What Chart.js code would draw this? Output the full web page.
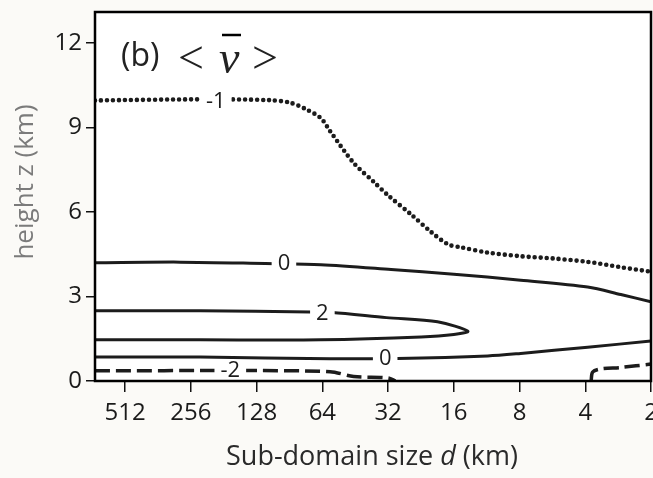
<!DOCTYPE html>
<html>
<head>
<meta charset="utf-8">
<script src="https://cdn.jsdelivr.net/npm/chart.js@4/dist/chart.umd.min.js"></script>
<style>
  html, body { margin: 0; padding: 0; background: #fbfaf7; overflow: hidden; }
  #wrap { width: 653px; height: 478px; }
</style>
</head>
<body>
<div id="wrap"><canvas id="myChart"></canvas></div>
<script>
// sub-domain size d (km) and height z (km)
const xTicks = [512, 256, 128, 64, 32, 16, 8, 4, 2];
const yTicks = [0, 3, 6, 9, 12];

const minus1X = [704, 232, 111, 90, 77, 65, 59, 46, 37, 32, 25, 20.4, 17, 14.9, 11.2, 7.9, 5.6, 3.9, 2.75, 2];
const minus1Z = [9.96, 10.0, 9.97, 9.88, 9.67, 9.33, 8.87, 7.74, 7.05, 6.59, 5.9, 5.3, 4.85, 4.75, 4.56, 4.43, 4.35, 4.23, 4.04, 3.88];

const zeroUpX = [704, 286, 117, 65, 31, 16, 7.9, 3.9, 2.75, 2];
const zeroUpZ = [4.2, 4.22, 4.17, 4.13, 3.96, 3.79, 3.58, 3.34, 3.07, 2.81];

const twoX = [704, 232, 72.5, 57.7, 32.6, 19, 13.8, 16, 22.6, 65, 232, 704];
const twoZ = [2.49, 2.49, 2.45, 2.43, 2.25, 2.1, 1.77, 1.65, 1.56, 1.46, 1.46, 1.46];

const zeroLowX = [704, 232, 59, 29, 11.2, 7.9, 3.9, 2];
const zeroLowZ = [0.85, 0.85, 0.79, 0.8, 0.89, 0.98, 1.2, 1.42];

const minus2LeftX = [704, 164, 59, 46, 32, 29.6];
const minus2LeftZ = [0.36, 0.37, 0.33, 0.16, 0.11, 0.0];

const minus2RightX = [3.76, 3.7, 3.39, 2.75, 2];
const minus2RightZ = [0, 0.32, 0.43, 0.48, 0.6];

const contourLabels = ['-1', '0', '2', '0', '-2'];
const labelX = [197, 96, 64, 33, 169];
const labelZ = [9.93, 4.17, 2.38, 0.8, 0.37];

const ink = '#1c1c1c';

function pts(xs, zs) {
    return xs.map((x, i) => ({ x: x, y: zs[i] }));
}

function solid(xs, zs) {
    return { data: pts(xs, zs), borderColor: ink, borderWidth: 3, tension: 0.3 };
}

function dashed(xs, zs) {
    return { data: pts(xs, zs), borderColor: ink, borderWidth: 3.5, borderDash: [15, 6], tension: 0.3 };
}

const backdrop = {
    id: 'backdrop',
    beforeDraw(chart) {
        const { ctx, chartArea: a } = chart;
        ctx.save();
        ctx.fillStyle = '#fbfaf7';
        ctx.fillRect(0, 0, chart.width, chart.height);
        ctx.fillStyle = '#ffffff';
        ctx.fillRect(a.left, a.top, a.right - a.left, a.bottom - a.top);
        ctx.restore();
    }
};

const decorations = {
    id: 'decorations',
    afterDatasetsDraw(chart) {
        const { ctx, chartArea: a, scales } = chart;
        ctx.save();
        // contour labels
        ctx.font = '22px "Open Sans"';
        ctx.textAlign = 'center';
        ctx.textBaseline = 'middle';
        contourLabels.forEach((t, i) => {
            const px = scales.x.getPixelForValue(labelX[i]);
            const py = scales.y.getPixelForValue(labelZ[i]);
            const w = ctx.measureText(t).width + 12;
            ctx.fillStyle = '#ffffff';
            ctx.fillRect(px - w / 2, py - 8, w, 16);
            ctx.fillStyle = ink;
            ctx.fillText(t, px, py);
        });
        // frame
        ctx.strokeStyle = '#000';
        ctx.lineWidth = 2.5;
        ctx.strokeRect(a.left, a.top, a.right - a.left, a.bottom - a.top);

        // panel label
        ctx.textAlign = 'left';
        ctx.textBaseline = 'alphabetic';
        ctx.fillStyle = '#222';
        ctx.font = '32px "Open Sans"';
        ctx.fillText('(b)', 121, 66);
        ctx.font = '46px "Liberation Serif"';
        ctx.fillText('<', 178, 73);
        ctx.fillText('>', 252, 73);
        ctx.font = 'italic 46px "Liberation Serif"';
        ctx.fillText('v', 219, 73);
        ctx.lineWidth = 2.5;
        ctx.beginPath();
        ctx.moveTo(222, 35);
        ctx.lineTo(241, 35);
        ctx.stroke();

        // x title with italic d
        const parts = [['Sub-domain size ', '27px "Open Sans"'], ['d', 'italic 27px "Open Sans"'], [' (km)', '27px "Open Sans"']];
        let total = 0;
        parts.forEach(p => { ctx.font = p[1]; total += ctx.measureText(p[0]).width; });
        let x = 372 - total / 2;
        ctx.fillStyle = '#2a2a2a';
        ctx.textBaseline = 'middle';
        parts.forEach(p => {
            ctx.font = p[1];
            ctx.fillText(p[0], x, 457);
            x += ctx.measureText(p[0]).width;
        });

        // y title
        ctx.translate(26, 182);
        ctx.rotate(-Math.PI / 2);
        ctx.textAlign = 'center';
        ctx.fillStyle = '#7b7b7b';
        ctx.font = '26px "Open Sans"';
        ctx.fillText('height z (km)', 0, 0);
        ctx.restore();
    }
};

new Chart(document.getElementById('myChart'), {
    type: 'scatter',
    data: {
        datasets: [
            {
                data: pts(minus1X, minus1Z), borderColor: ink, borderWidth: 4.6,
                borderDash: [0, 6], borderCapStyle: 'round', tension: 0.3
            },
            solid(zeroUpX, zeroUpZ),
            solid(twoX, twoZ),
            solid(zeroLowX, zeroLowZ),
            dashed(minus2LeftX, minus2LeftZ),
            dashed(minus2RightX, minus2RightZ)
        ]
    },
    options: {
        responsive: true,
        maintainAspectRatio: false,
        animation: false,
        showLine: true,
        elements: { point: { radius: 0 } },
        layout: { autoPadding: false, padding: { left: 0, top: 12, right: 2, bottom: 0 } },
        plugins: {
            legend: { display: false },
            tooltip: { enabled: false }
        },
        scales: {
            x: {
                type: 'logarithmic',
                reverse: true,
                min: 2,
                max: 704,
                afterBuildTicks: s => { s.ticks = xTicks.map(v => ({ value: v })); },
                afterFit: s => { s.height = 97; s.paddingLeft = 0; s.paddingRight = 0; },
                border: { display: false },
                grid: { drawOnChartArea: false, drawTicks: true, tickLength: 11, color: '#111', lineWidth: 1.5 },
                ticks: {
                    autoSkip: false, maxRotation: 0, padding: 7, color: '#1a1a1a',
                    font: { family: 'Open Sans', size: 24 },
                    callback: v => String(v)
                }
            },
            y: {
                min: 0,
                max: 13.1,
                afterBuildTicks: s => { s.ticks = yTicks.map(v => ({ value: v })); },
                afterFit: s => { s.width = 95; s.paddingTop = 0; s.paddingBottom = 0; },
                border: { display: false },
                grid: { drawOnChartArea: false, drawTicks: true, tickLength: 9, color: '#111', lineWidth: 1.5 },
                ticks: {
                    padding: 4, color: '#1a1a1a',
                    font: { family: 'Open Sans', size: 24 }
                }
            }
        }
    },
    plugins: [backdrop, decorations]
});
</script>
</body>
</html>
